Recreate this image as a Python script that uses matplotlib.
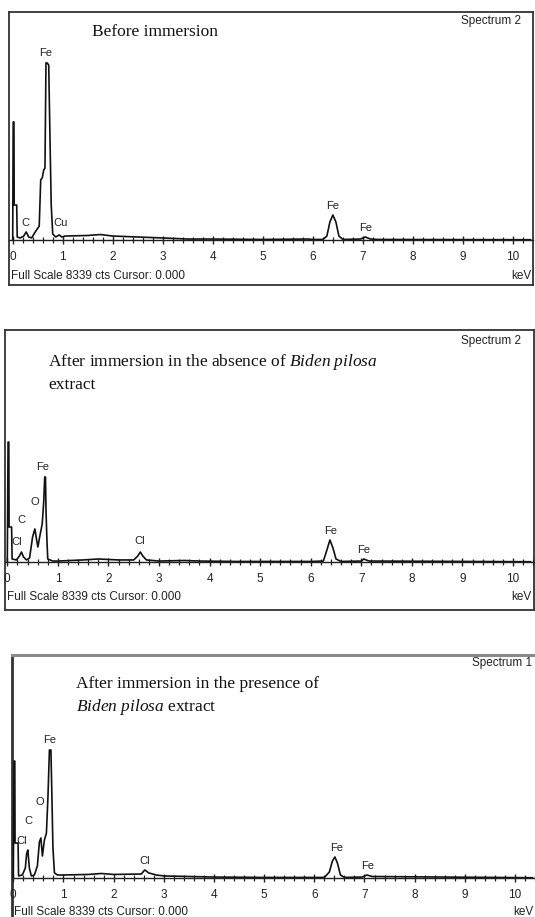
import numpy as np
import matplotlib.pyplot as plt
from matplotlib.ticker import MultipleLocator

plt.rcParams['font.family'] = ['Liberation Sans', 'DejaVu Sans']
plt.rcParams['mathtext.fontset'] = 'custom'
plt.rcParams['mathtext.rm'] = 'Liberation Serif'
plt.rcParams['mathtext.it'] = 'Liberation Serif:italic'

W, H = 535, 917

# EDS spectra, energy in keV and intensity in counts
before_kev = [0.00, 0.01, 0.025, 0.03, 0.08, 0.09, 0.15, 0.22, 0.27, 0.32,
              0.38, 0.45, 0.53, 0.56, 0.59, 0.62, 0.645, 0.665, 0.69, 0.72,
              0.745, 0.77, 0.80, 0.86, 0.93, 0.98, 1.05, 1.5, 1.75, 2.0,
              2.5, 3.0, 3.5, 4.0, 5.0, 5.9, 6.0, 6.2, 6.28, 6.34,
              6.40, 6.46, 6.52, 6.6, 6.95, 7.05, 7.15, 7.3, 10.35]
before_cts = [0, 4320, 4320, 1280, 1280, 110, 75, 145, 295, 110,
              75, 295, 510, 2200, 2270, 2560, 2635, 6480, 6480, 6400,
              3735, 1280, 220, 110, 185, 110, 145, 165, 200, 145,
              110, 75, 35, 35, 20, 35, 20, 20, 145, 660,
              915, 660, 145, 20, 35, 110, 35, 20, 10]

absence_kev = [0.00, 0.015, 0.03, 0.035, 0.085, 0.095, 0.18, 0.24, 0.28, 0.32,
               0.38, 0.44, 0.50, 0.545, 0.58, 0.605, 0.64, 0.69, 0.72, 0.74,
               0.755, 0.765, 0.785, 0.80, 0.9, 1.0, 1.5, 1.8, 2.2, 2.5,
               2.58, 2.63, 2.68, 2.75, 3.0, 3.5, 3.8, 4.5, 5.5, 6.0,
               6.25, 6.32, 6.38, 6.44, 6.5, 6.6, 7.0, 7.05, 7.15, 10.35]
absence_cts = [0, 4390, 4390, 1280, 1280, 110, 75, 220, 365, 185,
               75, 145, 915, 1210, 805, 550, 915, 1390, 2195, 3110,
               3110, 1905, 730, 110, 35, 35, 75, 110, 75, 75,
               220, 365, 220, 75, 35, 55, 35, 20, 20, 20,
               35, 440, 805, 510, 110, 20, 35, 110, 35, 10]

presence_kev = [0.00, 0.015, 0.03, 0.035, 0.095, 0.105, 0.18, 0.24, 0.265, 0.29,
                0.32, 0.36, 0.42, 0.48, 0.52, 0.55, 0.58, 0.62, 0.66, 0.69,
                0.72, 0.75, 0.77, 0.79, 0.82, 0.88, 1.0, 1.5, 1.75, 2.0,
                2.55, 2.62, 2.7, 2.85, 3.0, 3.5, 4.0, 5.0, 6.2, 6.3,
                6.36, 6.41, 6.46, 6.52, 6.6, 6.95, 7.05, 7.15, 10.35]
presence_cts = [0, 4280, 4280, 1280, 1280, 75, 110, 365, 880, 1025,
                365, 75, 110, 440, 1320, 1465, 805, 1390, 1645, 2930,
                4685, 4685, 2930, 1100, 185, 110, 110, 130, 165, 130,
                145, 295, 185, 110, 75, 55, 35, 20, 20, 220,
                620, 770, 550, 110, 20, 35, 110, 55, 10]

# element lines: name, energy, height of label
before_labels = [('Fe', 0.66, 6845), ('C', 0.26, 620), ('Cu', 0.95, 620),
                 ('Fe', 6.40, 1245), ('Fe', 7.06, 440)]
absence_labels = [('Fe', 0.70, 3475), ('O', 0.55, 2195), ('C', 0.27, 1535),
                  ('Cl', 0.19, 730), ('Cl', 2.62, 770), ('Fe', 6.39, 1135),
                  ('Fe', 7.05, 440)]
presence_labels = [('Fe', 0.72, 5050), ('O', 0.53, 2780), ('C', 0.30, 2085),
                   ('Cl', 0.17, 1355), ('Cl', 2.62, 620), ('Fe', 6.44, 1100),
                   ('Fe', 7.07, 440)]

panels = [
    dict(kev=before_kev, cts=before_cts, labels=before_labels,
         title=['Before immersion'], spec='Spectrum 2',
         frame=(9, 533, 12, 285), base=240, x0=12.7, x10=513,
         title_xy=(92, 32), spec_xy=(521, 21), foot_y=276),
    dict(kev=absence_kev, cts=absence_cts, labels=absence_labels,
         title=[r'After immersion in the absence of $\mathit{Biden\ pilosa}$',
                'extract'], spec='Spectrum 2',
         frame=(5, 534, 330, 610), base=562, x0=7.3, x10=513,
         title_xy=(48, 362), spec_xy=(521, 341), foot_y=597),
    dict(kev=presence_kev, cts=presence_cts, labels=presence_labels,
         title=['After immersion in the presence of',
                r'$\mathit{Biden\ pilosa}$ extract'], spec='Spectrum 1',
         frame=(12, 548, 655, 926), base=878, x0=13.3, x10=515,
         title_xy=(76, 684), spec_xy=(532, 663), foot_y=912),
]

CTS_PER_PX = 36.6

fig = plt.figure(figsize=(W / 100, H / 100), dpi=100)

for k, p in enumerate(panels):
    l, r, t, b = p['frame']
    rect = [l / W, 1 - b / H, (r - l) / W, (b - t) / H]

    # outer frame
    fr = fig.add_axes(rect)
    fr.set_xticks([])
    fr.set_yticks([])
    for s in fr.spines.values():
        s.set_color('#333333')
        s.set_linewidth(1.3)
    if k == 2:
        fr.spines['top'].set_color('#8a8a8a')
        fr.spines['top'].set_linewidth(2.2)
        fr.spines['left'].set_linewidth(2.0)

    # spectrum with its energy axis on the zero line
    ax = fig.add_axes(rect, facecolor='none')
    kev_px = (p['x10'] - p['x0']) / 10
    ax.set_xlim((l - p['x0']) / kev_px, (r - p['x0']) / kev_px)
    ax.set_ylim(-(b - p['base']) * CTS_PER_PX, (p['base'] - t) * CTS_PER_PX)
    ax.plot(p['kev'], p['cts'], color='#111111', lw=1.2)

    for s in ['left', 'right', 'top']:
        ax.spines[s].set_visible(False)
    ax.spines['bottom'].set_position(('data', 0))
    ax.spines['bottom'].set_color('#222222')
    ax.spines['bottom'].set_linewidth(1.0)
    ax.set_yticks([])
    ax.xaxis.set_major_locator(MultipleLocator(1))
    ax.xaxis.set_minor_locator(MultipleLocator(0.2))
    ax.tick_params(axis='x', which='major', direction='inout', length=6,
                   width=1, pad=5, labelsize=8.5, colors='#222222')
    ax.tick_params(axis='x', which='minor', direction='inout', length=4,
                   width=0.9, colors='#222222')

    for name, e, y in p['labels']:
        ax.text(e, y, name, ha='center', va='center', fontsize=8,
                color='#222222')

    tx, ty = p['title_xy']
    for i, line in enumerate(p['title']):
        fig.text(tx / W, 1 - (ty + i * 23) / H, line, ha='left', va='center',
                 fontsize=12.5, family='Liberation Serif', color='#111111')

    sx, sy = p['spec_xy']
    fig.text(sx / W, 1 - sy / H, p['spec'], ha='right', va='center',
             fontsize=8.5, color='#222222')
    fig.text((l + 2) / W, 1 - p['foot_y'] / H,
             'Full Scale 8339 cts Cursor: 0.000', ha='left', va='center',
             fontsize=8.5, color='#222222')
    fig.text(min(r - 2, 533) / W, 1 - p['foot_y'] / H, 'keV', ha='right',
             va='center', fontsize=8.5, color='#222222')

fig.savefig('out.png', dpi=100)
